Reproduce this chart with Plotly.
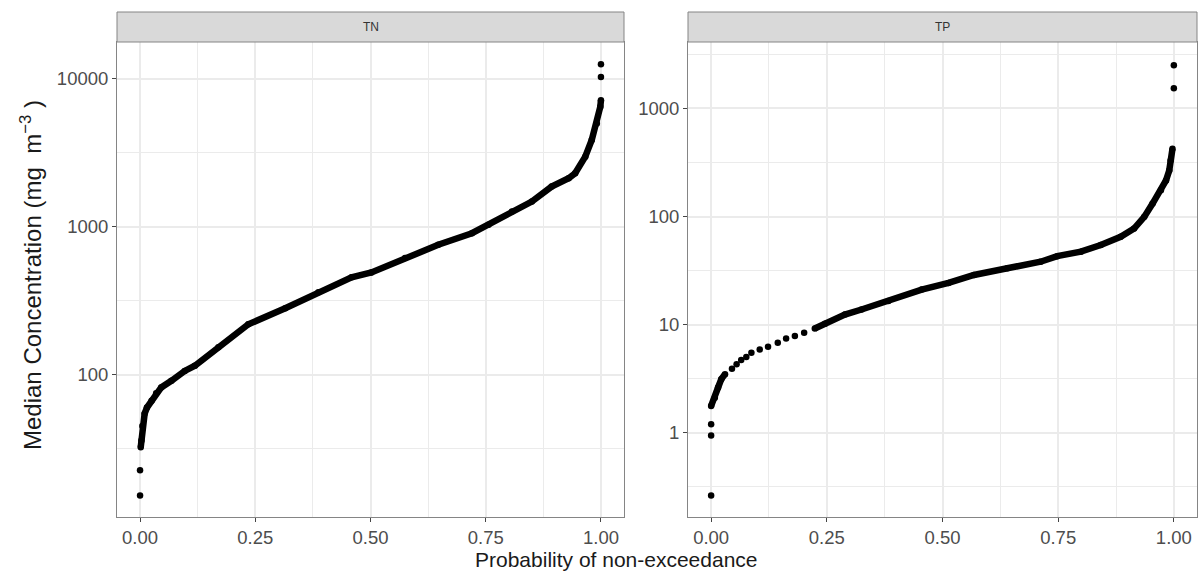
import plotly.graph_objects as go

# Probability of non-exceedance and median concentration (mg m^-3), total nitrogen
TN_P = [0.0, 0.0, 0.0015, 0.003, 0.005, 0.010, 0.015, 0.025, 0.035, 0.046, 0.068,
        0.097, 0.119, 0.17, 0.235, 0.315, 0.387, 0.459, 0.502, 0.575, 0.647, 0.72,
        0.756, 0.807, 0.85, 0.893, 0.93, 0.944, 0.966, 0.98, 0.991, 0.9986, 1.0,
        1.0, 1.0]
TN_C = [15.3, 22.6, 32.4, 36, 45, 54.6, 60, 66.8, 75, 82, 91,
        106, 115, 153, 219, 281, 360, 455, 490, 614, 754, 903,
        1028, 1265, 1478, 1864, 2122, 2293, 2970, 3846, 4980, 6450, 7150,
        10260, 12480]

# Total phosphorus
TP_P = [0.0, 0.0, 0.0, 0.0, 0.008, 0.015, 0.022, 0.030, 0.045, 0.055, 0.065,
        0.076, 0.087, 0.105, 0.123, 0.144, 0.162, 0.181, 0.201, 0.224, 0.246,
        0.289, 0.325, 0.383, 0.455, 0.513, 0.568, 0.64, 0.712, 0.748, 0.799,
        0.842, 0.885, 0.914, 0.936, 0.954, 0.972, 0.983, 0.99, 0.993, 0.997,
        1.0, 1.0]
TP_C = [0.263, 0.94, 1.2, 1.77, 2.11, 2.62, 3.13, 3.48, 3.9, 4.3, 4.7,
        5.02, 5.5, 5.9, 6.24, 6.79, 7.46, 7.83, 8.4, 9.2, 10.2,
        12.4, 13.8, 16.5, 21.1, 24.3, 28.8, 33.2, 38.2, 43, 47.3,
        54.5, 65, 77.4, 99.3, 132, 175, 216, 267, 330, 424,
        1535, 2513]

X_TICKS = [0, 0.25, 0.5, 0.75, 1.0]
X_TICK_TEXT = ["0.00", "0.25", "0.50", "0.75", "1.00"]
X_MINOR = [0.125, 0.375, 0.625, 0.875]
TN_TICKS = [100, 1000, 10000]
TP_TICKS = [1, 10, 100, 1000]

W, H = 1200, 573
FONT = "Liberation Sans, Arial, sans-serif"
BORDER = "#858585"
GRID = "#EBEBEB"

# panel geometry in pixels
L1, R1 = 117, 624
L2, R2 = 688, 1197
TOP, BOT = 42, 517
STRIP_TOP = 12

def px_x(v):
    return v / W

def px_y(v):
    return (H - v) / H

# runs of closely spaced points drawn as a continuous band
TN_RUNS = [(2, 33)]
TP_RUNS = [(3, 8), (19, 41)]

fig = go.Figure()

def add_panel(p, c, runs, xa, ya):
    for a, b in runs:
        fig.add_trace(go.Scatter(x=p[a:b], y=c[a:b], mode="lines",
                                 line=dict(color="black", width=6.5),
                                 xaxis=xa, yaxis=ya, showlegend=False,
                                 hoverinfo="skip"))
    fig.add_trace(go.Scatter(x=p, y=c, mode="markers",
                             marker=dict(color="black", size=6.5),
                             xaxis=xa, yaxis=ya, showlegend=False))

add_panel(TN_P, TN_C, TN_RUNS, "x", "y")
add_panel(TP_P, TP_C, TP_RUNS, "x2", "y2")

TICK_FONT = dict(family=FONT, size=18.5, color="#4D4D4D")

def x_axis(l, r, anchor):
    return dict(domain=[px_x(l), px_x(r)], range=[-0.05, 1.05], anchor=anchor,
                tickvals=X_TICKS, ticktext=X_TICK_TEXT,
                showline=True, mirror=True, linecolor=BORDER, linewidth=1,
                ticks="outside", ticklen=4, tickcolor="#444", tickwidth=1,
                tickfont=TICK_FONT,
                showgrid=True, gridcolor=GRID, gridwidth=1.5, zeroline=False,
                minor=dict(tickvals=X_MINOR, showgrid=True, gridcolor=GRID,
                           gridwidth=0.8, ticks=""))

def y_axis(rng, ticks, anchor):
    return dict(type="log", domain=[px_y(BOT), px_y(TOP)], range=rng,
                anchor=anchor, tickvals=ticks, ticktext=[str(t) for t in ticks],
                showline=True, mirror=True, linecolor=BORDER, linewidth=1,
                ticks="outside", ticklen=4, tickcolor="#444", tickwidth=1,
                tickfont=TICK_FONT,
                showgrid=True, gridcolor=GRID, gridwidth=1.5, zeroline=False,
                minor=dict(tickvals=[10 ** (k + 0.5) for k in range(-2, 5)],
                           showgrid=True, gridcolor=GRID, gridwidth=0.8, ticks=""))

fig.update_layout(
    width=W, height=H,
    margin=dict(l=0, r=0, t=0, b=0),
    paper_bgcolor="white", plot_bgcolor="white",
    xaxis=x_axis(L1, R1, "y"),
    yaxis=y_axis([1.039, 4.247], TN_TICKS, "x"),
    xaxis2=x_axis(L2, R2, "y2"),
    yaxis2=y_axis([-0.78, 3.615], TP_TICKS, "x2"),
)

# facet strips
for (l, r, label) in [(L1, R1, "TN"), (L2, R2, "TP")]:
    fig.add_shape(type="rect", xref="paper", yref="paper",
                  x0=px_x(l), x1=px_x(r), y0=px_y(TOP), y1=px_y(STRIP_TOP),
                  fillcolor="#D9D9D9", line=dict(color=BORDER, width=1))
    fig.add_annotation(x=(px_x(l) + px_x(r)) / 2, y=(px_y(TOP) + px_y(STRIP_TOP)) / 2,
                       xref="paper", yref="paper", xanchor="center", yanchor="middle",
                       text=label, showarrow=False,
                       font=dict(family=FONT, size=12, color="#333333"))

# axis titles
fig.add_annotation(x=px_x(616), y=px_y(559), xref="paper", yref="paper",
                   xanchor="center", yanchor="middle",
                   text="Probability of non-exceedance", showarrow=False,
                   font=dict(family=FONT, size=21, color="#1A1A1A"))
fig.add_annotation(x=px_x(31), y=px_y(275), xref="paper", yref="paper",
                   xanchor="center", yanchor="middle",
                   text="Median Concentration (mg  m<sup>−3</sup> )", textangle=-90,
                   showarrow=False, font=dict(family=FONT, size=24, color="#1A1A1A"))

fig.write_html("out.html")
